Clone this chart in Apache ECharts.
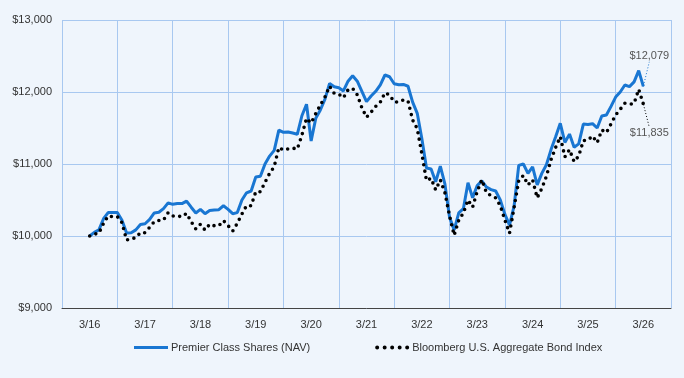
<!DOCTYPE html>
<html>
<head>
<meta charset="utf-8">
<script src="https://cdn.jsdelivr.net/npm/echarts@6/dist/echarts.min.js"></script>
<style>
html,body{margin:0;padding:0;background:#eff5fc;}
#container{width:684px;height:378px;}
</style>
</head>
<body>
<div id="container"></div>
<script>
// year labels on the x axis (one category per year)
var years = ['3/16','3/17','3/18','3/19','3/20','3/21','3/22','3/23','3/24','3/25','3/26'];

// month-end values, 3/16 .. 3/26 (121 points)
var fundValues = [
	10000,10050,10085,10240,10325,10325,10325,10220,10040,10045,10085,10160,
	10170,10230,10320,10330,10380,10460,10440,10450,10450,10485,10400,10320,
	10370,10310,10355,10360,10365,10420,10370,10310,10325,10500,10600,10625,
	10820,10830,11000,11110,11190,11470,11440,11445,11430,11413,11670,11829,
	11320,11634,11750,11900,12120,12074,12060,12015,12150,12225,12150,12010,
	11866,11944,12010,12100,12236,12212,12115,12100,12105,12080,11860,11704,
	11350,10945,10930,10754,10970,10720,10260,10085,10320,10380,10740,10530,
	10700,10765,10680,10645,10625,10500,10300,10150,10420,10980,11000,10870,
	10960,10710,10870,10990,11200,11380,11565,11300,11415,11232,11280,11555,
	11550,11560,11500,11667,11680,11800,11930,12000,12097,12075,12140,12296,
	12079
];
var indexValues = [
	10000,10025,10040,10176,10278,10268,10268,10185,9944,9960,9977,10046,
	10046,10120,10199,10215,10222,10324,10278,10278,10268,10315,10199,10097,
	10162,10083,10162,10143,10143,10213,10143,10069,10176,10305,10421,10421,
	10615,10615,10745,10870,10963,11230,11194,11210,11220,11208,11400,11634,
	11570,11700,11820,11930,12080,11982,11970,11920,12030,12050,11960,11780,
	11650,11720,11800,11860,11990,11960,11862,11862,11890,11875,11610,11490,
	11140,10770,10800,10640,10780,10600,10280,10010,10220,10320,10500,10400,
	10620,10780,10600,10560,10530,10420,10220,10040,10400,10770,10840,10710,
	10780,10530,10660,10830,11060,11230,11380,11100,11200,11032,11111,11324,
	11333,11389,11296,11472,11435,11556,11680,11760,11843,11830,11840,12037,
	11835
];

var fundName = 'Premier Class Shares (NAV)';
var indexName = 'Bloomberg U.S. Aggregate Bond Index';
var blue = '#1976d2';
var font = 'Liberation Sans, Arial, sans-serif';

function money(v){
	return '$' + Number(v).toLocaleString('en-US');
}

// turn a value list into [month, value] pairs, last point carries the end label
function buildData(values, color, pos){
	var out = [];
	for (var i = 0; i < values.length; i++) {
		out.push([i, values[i]]);
	}
	var last = values.length - 1;
	out[last] = {
		value: [last, values[last]],
		symbol: 'circle',
		symbolSize: 1,
		label: {
			show: true,
			position: pos,
			formatter: function(p){ return money(p.value[1]); },
			color: '#555',
			fontSize: 11,
			fontFamily: font
		},
		labelLine: {
			show: true,
			lineStyle: { color: color, width: 1, type: [1, 2] }
		}
	};
	return out;
}

var dotsIcon = 'path://M0,2a2,2 0 1,0 4,0a2,2 0 1,0 -4,0' +
	'M7.5,2a2,2 0 1,0 4,0a2,2 0 1,0 -4,0' +
	'M15,2a2,2 0 1,0 4,0a2,2 0 1,0 -4,0' +
	'M22.5,2a2,2 0 1,0 4,0a2,2 0 1,0 -4,0' +
	'M30,2a2,2 0 1,0 4,0a2,2 0 1,0 -4,0';

var myChart = echarts.init(document.getElementById('container'));
var option = {
	backgroundColor: '#eff5fc',
	animation: false,
	grid: { left: 62, right: 13, top: 20, bottom: 70 },
	legend: {
		left: 134,
		top: 342,
		padding: 0,
		itemWidth: 34,
		itemHeight: 4,
		itemGap: 65,
		textStyle: { color: '#333', fontSize: 11, fontFamily: font, padding: [0, 0, 0, -2] },
		data: [
			{ name: fundName, icon: 'path://M0,0.5h34v3h-34z' },
			{ name: indexName, icon: dotsIcon }
		]
	},
	xAxis: [
		{
			type: 'category',
			data: years,
			boundaryGap: true,
			axisLine: { show: true, lineStyle: { color: '#444', width: 1 } },
			axisTick: { show: false },
			axisLabel: { color: '#333', fontSize: 11, fontFamily: font, margin: 11 },
			splitLine: { show: true, lineStyle: { color: '#a8c8f0', width: 1 } }
		},
		{
			type: 'value',
			min: -6,
			max: 126,
			show: false
		}
	],
	yAxis: {
		type: 'value',
		min: 9000,
		max: 13000,
		interval: 1000,
		axisLine: { show: false },
		axisTick: { show: false },
		axisLabel: {
			color: '#333', fontSize: 11, fontFamily: font, margin: 10,
			formatter: money
		},
		splitLine: { lineStyle: { color: '#a8c8f0', width: 1 } }
	},
	series: [
		{
			name: fundName,
			type: 'line',
			xAxisIndex: 1,
			data: buildData(fundValues, blue, 'top'),
			symbol: 'none',
			showSymbol: true,
			showAllSymbol: true,
			itemStyle: { color: blue },
			lineStyle: { color: blue, width: 3 },
			labelLayout: { dx: 6, dy: -19 },
			z: 2
		},
		{
			name: indexName,
			type: 'line',
			xAxisIndex: 1,
			data: buildData(indexValues, '#000', 'bottom'),
			symbol: 'none',
			showSymbol: true,
			showAllSymbol: true,
			itemStyle: { color: '#000' },
			lineStyle: { color: '#000', width: 3.6, type: [0, 6.5], cap: 'round' },
			labelLayout: { dx: 6, dy: 18 },
			z: 3
		}
	]
};
myChart.setOption(option, true);
</script>
</body>
</html>
